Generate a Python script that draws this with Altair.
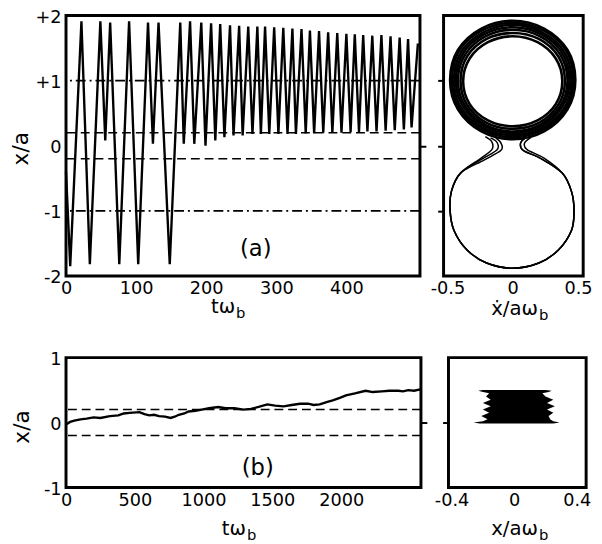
import altair as alt
import pandas as pd

FONT = "DejaVu Sans"

# ---------------- panel (a): x/a versus t*omega_b ----------------
ta = [0, 6, 22, 34, 49, 56, 63, 76, 90, 103, 117, 124, 132, 148, 163, 168, 177, 183, 193, 199,
      207, 213, 220, 226, 234, 239, 247, 252, 260, 266, 273, 278, 284, 290, 297, 303, 310, 316,
      323, 328, 336, 342, 348, 354, 361, 367, 374, 380, 387, 393, 400, 406, 412, 418, 424, 430,
      437, 443, 450, 456, 463, 469, 476, 482, 488, 493, 502]
xa = [-0.40, -1.85, 1.91, -1.82, 1.91, 0.08, 1.89, -1.82, 1.91, -1.82, 1.89, 0.03, 1.89, -1.82,
      1.89, 0.03, 1.91, 0.03, 1.89, 0.00, 1.88, 0.08, 1.87, 0.13, 1.85, 0.16, 1.84, 0.16, 1.83,
      0.18, 1.83, 0.18, 1.83, 0.18, 1.82, 0.18, 1.81, 0.18, 1.80, 0.18, 1.79, 0.19, 1.77, 0.19,
      1.76, 0.20, 1.74, 0.20, 1.73, 0.20, 1.72, 0.21, 1.71, 0.21, 1.70, 0.22, 1.69, 0.22, 1.70,
      0.23, 1.68, 0.24, 1.66, 0.25, 1.64, 0.28, 1.57]
dash_lines = [0.2, -0.2]
dashdot_lines = [1.0, -1.0]
ticks_a_x = [0, 100, 200, 300, 400]
ticks_a_y = [-2, -1, 0, 1, 2]

# ---------------- panel (a): phase portrait (xdot, x) ----------------
up_v1 = [0.00, 0.24, 0.42, 0.48, 0.42, 0.24, 0.00, -0.24, -0.42, -0.48, -0.42, -0.24]
up_x1 = [1.92, 1.80, 1.47, 1.01, 0.56, 0.22, 0.10, 0.22, 0.56, 1.01, 1.47, 1.80]
up_v2 = [0.00, 0.235, 0.41, 0.465, 0.41, 0.235, 0.00, -0.235, -0.41, -0.465, -0.41, -0.235]
up_x2 = [1.89, 1.77, 1.46, 1.01, 0.57, 0.25, 0.13, 0.25, 0.57, 1.01, 1.46, 1.77]
up_v3 = [0.00, 0.225, 0.395, 0.45, 0.395, 0.225, 0.00, -0.225, -0.395, -0.45, -0.395, -0.225]
up_x3 = [1.86, 1.74, 1.44, 1.00, 0.58, 0.27, 0.16, 0.27, 0.58, 1.00, 1.44, 1.74]
up_v4 = [0.00, 0.22, 0.38, 0.435, 0.38, 0.22, 0.00, -0.22, -0.38, -0.435, -0.38, -0.22]
up_x4 = [1.82, 1.71, 1.42, 1.00, 0.60, 0.30, 0.19, 0.30, 0.60, 1.00, 1.42, 1.71]
up_v5 = [0.00, 0.21, 0.365, 0.42, 0.365, 0.21, 0.00, -0.21, -0.365, -0.42, -0.365, -0.21]
up_x5 = [1.78, 1.68, 1.40, 1.00, 0.61, 0.32, 0.22, 0.32, 0.61, 1.00, 1.40, 1.68]
up_v6 = [0.00, 0.20, 0.35, 0.40, 0.35, 0.20, 0.00, -0.20, -0.35, -0.40, -0.35, -0.20]
up_x6 = [1.73, 1.64, 1.37, 0.99, 0.63, 0.35, 0.26, 0.35, 0.63, 0.99, 1.37, 1.64]
up_v7 = [0.00, 0.19, 0.33, 0.38, 0.33, 0.19, 0.00, -0.19, -0.33, -0.38, -0.33, -0.19]
up_x7 = [1.68, 1.59, 1.34, 0.99, 0.64, 0.39, 0.30, 0.39, 0.64, 0.99, 1.34, 1.59]

low_v1 = [-0.21, -0.16, -0.16, -0.25, -0.40, -0.47, -0.48, -0.45, -0.35, -0.20, 0.00, 0.20,
          0.35, 0.45, 0.47, 0.45, 0.38, 0.22, 0.08, 0.06, 0.10]
low_x1 = [0.14, 0.06, -0.06, -0.20, -0.42, -0.70, -1.00, -1.30, -1.60, -1.80, -1.88, -1.80,
          -1.60, -1.30, -1.00, -0.70, -0.42, -0.20, -0.07, 0.04, 0.13]
low_v2 = [-0.17, -0.12, -0.12, -0.24, -0.40, -0.47, -0.48, -0.45, -0.35, -0.20, 0.00, 0.20,
          0.35, 0.45, 0.47, 0.45, 0.38, 0.24, 0.11, 0.09, 0.14]
low_x2 = [0.12, 0.05, -0.06, -0.21, -0.42, -0.70, -1.00, -1.30, -1.60, -1.80, -1.88, -1.80,
          -1.60, -1.30, -1.00, -0.70, -0.42, -0.19, -0.06, 0.04, 0.13]
low_v3 = [-0.13, -0.09, -0.09, -0.22, -0.40, -0.47, -0.48, -0.45, -0.35, -0.20, 0.00, 0.20,
          0.35, 0.45, 0.47, 0.45, 0.38, 0.22, 0.08, 0.06, 0.10]
low_x3 = [0.12, 0.04, -0.07, -0.22, -0.42, -0.70, -1.00, -1.30, -1.60, -1.80, -1.88, -1.80,
          -1.60, -1.30, -1.00, -0.70, -0.42, -0.20, -0.07, 0.04, 0.13]
ticks_p_x = [-0.5, 0, 0.5]

# ---------------- panel (b): x/a versus t*omega_b ----------------
tb = [0, 30, 60, 105, 150, 200, 250, 319, 380, 420, 462, 534, 570, 605, 640, 677, 720, 760,
      790, 820, 860, 891, 940, 986, 1040, 1106, 1160, 1224, 1290, 1344, 1400, 1463, 1520, 1582,
      1640, 1701, 1760, 1800, 1844, 1900, 1939, 1990, 2035, 2100, 2178, 2230, 2296, 2350, 2416,
      2450, 2487, 2530, 2575]
xb = [-0.03, 0.01, 0.03, 0.05, 0.06, 0.08, 0.07, 0.10, 0.11, 0.14, 0.15, 0.16, 0.13, 0.11, 0.12,
      0.10, 0.09, 0.07, 0.09, 0.12, 0.14, 0.17, 0.18, 0.20, 0.22, 0.24, 0.22, 0.22, 0.20, 0.21,
      0.24, 0.28, 0.26, 0.25, 0.27, 0.29, 0.29, 0.27, 0.28, 0.32, 0.34, 0.38, 0.42, 0.45, 0.49,
      0.47, 0.48, 0.49, 0.49, 0.48, 0.50, 0.49, 0.51]
ticks_b_x = [0, 500, 1000, 1500, 2000]
ticks_b_y = [-1, 0, 1]

# ---------------- panel (b): phase portrait (filled band) ----------------
blob_y = [0.50, 0.49, 0.47, 0.45, 0.40, 0.35, 0.30, 0.25, 0.20, 0.15, 0.10, 0.05, 0.02, 0.00, -0.015]
blob_l = [-0.20, -0.23, -0.20, -0.16, -0.18, -0.15, -0.20, -0.15, -0.20, -0.16, -0.21, -0.17, -0.20, -0.26, -0.22]
blob_r = [0.20, 0.24, 0.22, 0.18, 0.20, 0.25, 0.21, 0.26, 0.21, 0.25, 0.22, 0.23, 0.25, 0.29, 0.25]
ticks_c_x = [-0.4, 0, 0.4]

# ---------------- helpers ----------------
W1, H1 = 360, 265
W2 = 142
W3, H3 = 361, 132
W4 = 140

LBL = "toString(datum.value)"
LBL_PLUS = "datum.value > 0 ? '+' + toString(datum.value) : toString(datum.value)"


def text(s, x, y, size, align="center", baseline="alphabetic"):
    return alt.Chart(pd.DataFrame({"s": [s]})).mark_text(
        font=FONT, fontSize=size, align=align, baseline=baseline, color="black"
    ).encode(x=alt.value(x), y=alt.value(y), text="s:N")


def xtitle(main, cx, y, sub="b"):
    return [text(main, cx, y, 20, align="right"), text(sub, cx + 1, y + 5, 15, align="left")]


def hrules(vals, scale, dash, axis=None):
    return alt.Chart(pd.DataFrame({"v": vals})).mark_rule(
        color="black", strokeWidth=1.6, strokeDash=dash
    ).encode(y=alt.Y("v:Q", scale=scale, axis=axis))


def right_tick():
    return alt.Axis(orient="right", values=[0], labels=False, ticks=True, tickSize=6,
                    tickWidth=2, title=None)


# ---------------- top left ----------------
xs_a = alt.Scale(domain=[0, 505], nice=False, zero=False)
ys_a = alt.Scale(domain=[-2, 2], nice=False, zero=False)

line_a = alt.Chart(pd.DataFrame({"t": ta, "x": xa})).mark_line(
    color="black", strokeWidth=2.4
).encode(
    x=alt.X("t:Q", scale=xs_a, axis=alt.Axis(values=ticks_a_x, title=None, labelPadding=4,
                                             labelExpr=LBL)),
    y=alt.Y("x:Q", scale=ys_a, axis=alt.Axis(values=ticks_a_y, labelExpr=LBL_PLUS, title="x/a",
                                             titleAngle=270, titleX=-46, titleY=135,
                                             titleBaseline="middle", titleAlign="center",
                                             labelPadding=5, labelOffset=2)),
)

top_left = alt.layer(
    hrules(dashdot_lines, ys_a, [10, 4, 2, 4]),
    hrules(dash_lines, ys_a, [9, 5], axis=right_tick()),
    line_a,
    text("(a)", 193, 238, 23, baseline="middle"),
    *xtitle("tω", 172, 303),
).resolve_axis(x="independent", y="independent").properties(width=W1, height=H1)

# ---------------- top right ----------------
xs_p = alt.Scale(domain=[-0.53, 0.54], nice=False, zero=False)
up_rows = []
for k, (vv, xx) in enumerate([(up_v1, up_x1), (up_v2, up_x2), (up_v3, up_x3), (up_v4, up_x4),
                              (up_v5, up_x5), (up_v6, up_x6), (up_v7, up_x7)]):
    for i, (a, b) in enumerate(zip(vv, xx)):
        up_rows.append({"k": k, "i": i, "v": a, "x": b})
low_rows = []
for k, (vv, xx) in enumerate([(low_v1, low_x1), (low_v2, low_x2), (low_v3, low_x3)]):
    for i, (a, b) in enumerate(zip(vv, xx)):
        low_rows.append({"k": k, "i": i, "v": a, "x": b})

upper = alt.Chart(pd.DataFrame(up_rows)).mark_line(
    color="black", strokeWidth=2.6, interpolate="cardinal-closed"
).encode(
    x=alt.X("v:Q", scale=xs_p, axis=alt.Axis(values=ticks_p_x, title=None, labelPadding=4,
                                             labelExpr=LBL)),
    y=alt.Y("x:Q", scale=ys_a, axis=alt.Axis(values=[-1, 0, 1], labels=False, ticks=True,
                                             tickSize=6, tickWidth=2, title=None)),
    detail="k:N",
    order="i:Q",
)
lower = alt.Chart(pd.DataFrame(low_rows)).mark_line(
    color="black", strokeWidth=1.5, interpolate="cardinal"
).encode(
    x=alt.X("v:Q", scale=xs_p, axis=None),
    y=alt.Y("x:Q", scale=ys_a, axis=None),
    detail="k:N",
    order="i:Q",
)
top_right = alt.layer(
    lower, upper, *xtitle("ẋ/aω", 96, 305)
).resolve_axis(x="independent", y="independent").properties(width=W2, height=H1)

# ---------------- bottom left ----------------
xs_b = alt.Scale(domain=[0, 2580], nice=False, zero=False)
ys_b = alt.Scale(domain=[-1, 1], nice=False, zero=False)
line_b = alt.Chart(pd.DataFrame({"t": tb, "x": xb})).mark_line(
    color="black", strokeWidth=2.4
).encode(
    x=alt.X("t:Q", scale=xs_b, axis=alt.Axis(values=ticks_b_x, title=None, labelPadding=4,
                                             labelExpr=LBL)),
    y=alt.Y("x:Q", scale=ys_b, axis=alt.Axis(values=ticks_b_y, labelExpr=LBL, title="x/a",
                                             titleAngle=270, titleX=-45, titleY=70,
                                             titleBaseline="middle", titleAlign="center",
                                             labelPadding=5, labelOffset=2)),
)
bottom_left = alt.layer(
    hrules(dash_lines, ys_b, [9, 5], axis=right_tick()),
    line_b,
    text("(b)", 195, 112, 23, baseline="middle"),
    *xtitle("tω", 183, 180),
).resolve_axis(x="independent", y="independent").properties(width=W3, height=H3)

# ---------------- bottom right ----------------
xs_c = alt.Scale(domain=[-0.42, 0.46], nice=False, zero=False)
blob = alt.Chart(pd.DataFrame({"y": blob_y, "l": blob_l, "r": blob_r})).mark_area(
    color="black", orient="horizontal", opacity=1
).encode(
    y=alt.Y("y:Q", scale=ys_b, axis=alt.Axis(values=[0], labels=False, ticks=True, tickSize=6,
                                             tickWidth=2, title=None)),
    x=alt.X("l:Q", scale=xs_c, axis=alt.Axis(values=ticks_c_x, title=None, labelPadding=4,
                                             labelExpr=LBL)),
    x2="r:Q",
)
bottom_right = alt.layer(
    blob, *xtitle("x/aω", 91, 180)
).resolve_axis(x="independent", y="independent").properties(width=W4, height=H3)

top = alt.hconcat(top_left, top_right, spacing=24, bounds="flush")
bottom = alt.hconcat(bottom_left, bottom_right, spacing=28, bounds="flush")

chart = alt.vconcat(top, bottom, spacing=24, bounds="full").properties(
    padding={"left": 0, "top": -6, "right": 0, "bottom": 0}
).configure_view(
    stroke="black", strokeWidth=3
).configure_axis(
    labelFont=FONT, labelFontSize=18, labelColor="black", titleFont=FONT, titleFontSize=22,
    titleColor="black", titleFontWeight="normal", grid=False, domain=False, ticks=False,
    tickColor="black", labelFlush=False
)

chart.save("out.html", embed_options={"renderer": "svg", "actions": False})
